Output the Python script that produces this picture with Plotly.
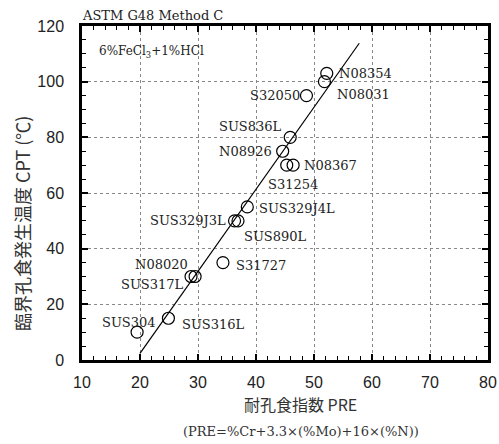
import plotly.graph_objects as go

# ---- data ----
alloys = ["N08354", "N08031", "S32050", "SUS836L", "N08926", "S31254", "N08367",
          "SUS329J4L", "SUS329J3L", "SUS890L", "S31727", "N08020", "SUS317L",
          "SUS316L", "SUS304"]
pre = [52.2, 51.8, 48.7, 45.9, 44.6, 45.3, 46.4, 38.5, 36.3, 36.9, 34.3, 28.8, 29.5, 24.9, 19.5]
cpt = [103, 100, 95, 80, 75, 70, 70, 55, 50, 50, 35, 30, 30, 15, 10]
fit_pre = [20.0, 57.8]
fit_cpt = [2.4, 113.8]
x_ticks = [10, 20, 30, 40, 50, 60, 70, 80]
y_ticks = [0, 20, 40, 60, 80, 100, 120]

# ---- label placement (layout) : name -> (x, y, xanchor) ----
label_pos = {
    "N08354": (53.9, 103, "left"),
    "N08031": (53.6, 95.5, "left"),
    "S32050": (47.9, 95, "right"),
    "SUS836L": (44.8, 84, "right"),
    "N08926": (43.1, 74.8, "right"),
    "N08367": (48.0, 70, "left"),
    "S31254": (41.7, 63, "left"),
    "SUS329J4L": (40.2, 54.3, "left"),
    "SUS329J3L": (35.2, 50, "right"),
    "SUS890L": (37.5, 44.2, "left"),
    "N08020": (28.6, 34.3, "right"),
    "S31727": (36.2, 34.0, "left"),
    "SUS317L": (27.9, 27.0, "right"),
    "SUS304": (23.1, 13.4, "right"),
    "SUS316L": (26.9, 12.6, "left"),
}

serif = "DejaVu Serif, Liberation Serif, serif"
jp = "Noto Sans CJK JP"
tickfont = dict(family="Liberation Sans Narrow, Liberation Sans, sans-serif", size=16, color="#222")

fig = go.Figure()
fig.add_trace(go.Scatter(x=fit_pre, y=fit_cpt, mode="lines",
                         line=dict(color="black", width=1.2), showlegend=False, hoverinfo="skip"))
fig.add_trace(go.Scatter(x=pre, y=cpt, mode="markers", text=alloys,
                         marker=dict(symbol="circle-open", size=12, color="black",
                                     line=dict(width=1.2, color="black")),
                         showlegend=False))

ann = []
for name in alloys:
    if name in label_pos:
        lx, ly, xa = label_pos[name]
        ann.append(dict(x=lx, y=ly, xref="x", yref="y", text=name, showarrow=False,
                        xanchor=xa, yanchor="middle",
                        font=dict(family=serif, size=13, color="#222")))

ann += [
    dict(x=0, y=1.0, xref="paper", yref="paper", text="ASTM G48 Method C", showarrow=False,
         xanchor="left", yanchor="bottom", yshift=1, xshift=-2, font=dict(family=serif, size=13, color="#222")),
    dict(x=12.6, y=110.5, xref="x", yref="y", text="6%FeCl<sub>3</sub>+1%HCl", showarrow=False,
         xanchor="left", yanchor="middle", font=dict(family=serif, size=12, color="#222")),
]

L, R, T, B, W, H = 82, 11, 26, 84, 499, 444
pw, ph = W - L - R, H - T - B


def px2paper(px, py):
    return (px - L) / pw, (H - B - py) / ph


yx, yy = px2paper(22, 224)
x1x, x1y = px2paper(300, 404)
x2x, x2y = px2paper(301, 431)
ann += [
    dict(x=yx, y=yy, xref="paper", yref="paper", text="臨界孔食発生温度 CPT (℃)", showarrow=False,
         textangle=-90, xanchor="center", yanchor="middle",
         font=dict(family=jp, size=18, color="#333")),
    dict(x=x1x, y=x1y, xref="paper", yref="paper", text="耐孔食指数 PRE", showarrow=False,
         xanchor="center", yanchor="middle", font=dict(family=jp, size=16, color="#333")),
    dict(x=x2x, y=x2y, xref="paper", yref="paper", text="(PRE=%Cr+3.3×(%Mo)+16×(%N))", showarrow=False,
         xanchor="center", yanchor="middle", font=dict(family=serif, size=13, color="#333")),
]

fig.update_layout(
    width=W, height=H, margin=dict(l=L, r=R, t=T, b=B, autoexpand=False),
    plot_bgcolor="white", paper_bgcolor="white",
    annotations=ann,
    xaxis=dict(range=[10, 80], tickvals=x_ticks, ticks="inside", ticklen=6, tickwidth=1.5,
               tickcolor="black", showline=True, linewidth=2.5, linecolor="black", mirror="allticks",
               showgrid=True, gridcolor="#888", griddash="dot", gridwidth=1, zeroline=False,
               tickfont=tickfont, ticklabelstandoff=6, automargin=False,
               minor=dict(dtick=2, ticks="inside", ticklen=4, tickwidth=1.2, tickcolor="black", showgrid=False)),
    yaxis=dict(range=[0, 120], tickvals=y_ticks, ticks="inside", ticklen=6, tickwidth=1.5,
               tickcolor="black", showline=True, linewidth=2.5, linecolor="black", mirror="allticks",
               showgrid=True, gridcolor="#888", griddash="dot", gridwidth=1, zeroline=False,
               tickfont=tickfont, ticklabelstandoff=12, automargin=False,
               minor=dict(dtick=5, ticks="inside", ticklen=4, tickwidth=1.2, tickcolor="black", showgrid=False)),
)
fig.write_html("out.html", config={"displayModeBar": False},
               post_script="document.body.style.margin='0px';document.body.style.overflow='hidden';")
